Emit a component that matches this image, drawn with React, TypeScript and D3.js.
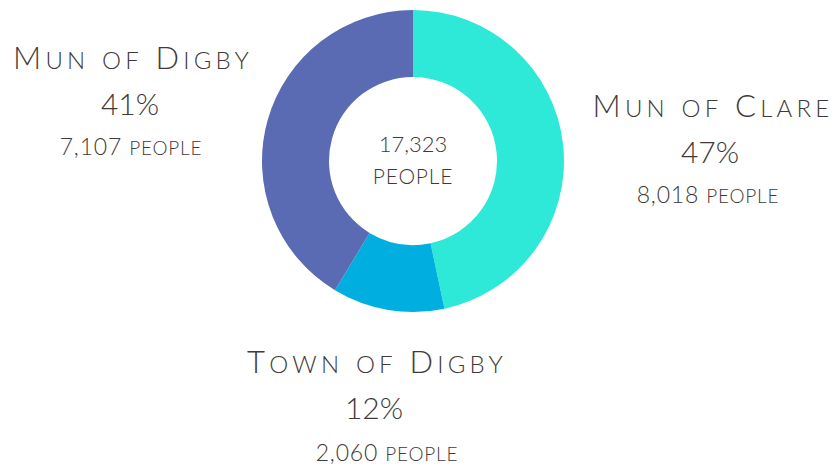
import * as d3 from "d3";

const regions = ["Mun of Clare", "Town of Digby", "Mun of Digby"];
const people = [8018, 2060, 7107];
const percents = ["47%", "12%", "41%"];
const colors = ["#2ee8d8", "#00aedf", "#5a6bb3"];
const totalLabel = "17,323";

const width = 835;
const height = 468;
const cx = 413;
const cy = 161;
const outerR = 151;
const innerR = 84;

// label block anchors (centre x, title baseline y) and x nudge of the people line
const labelPos: [number, number][] = [
  [713, 117],
  [377, 373],
  [133, 69],
];
const peopleShift = [-5, 10, -2];

const font = "Lato, 'Open Sans', sans-serif";
const ink = "#3f3a38";

// fake small caps: lower-case runs drawn as capitals at a smaller size
function smallCaps(s: string, big: number, small: number) {
  const runs = s.match(/[a-z]+|[^a-z]+/g) ?? [];
  return runs.map((r, i) =>
    /[a-z]/.test(r[0]) ? (
      <tspan key={i} fontSize={small}>
        {r.toUpperCase()}
      </tspan>
    ) : (
      <tspan key={i} fontSize={big}>
        {r}
      </tspan>
    )
  );
}

export default function App() {
  const pie = d3
    .pie<number>()
    .value((d) => d)
    .sort(null);
  const arcs = pie(people);
  const arc = d3.arc<d3.PieArcDatum<number>>().innerRadius(innerR).outerRadius(outerR);
  const fmt = d3.format(",");

  return (
    <svg
      width={width}
      height={height}
      style={{ position: "absolute", left: 0, top: 0, background: "#fff" }}
    >
      <g transform={`translate(${cx},${cy})`}>
        {arcs.map((a, i) => (
          <path key={i} d={arc(a) ?? ""} fill={colors[i]} />
        ))}
        <text
          textAnchor="middle"
          y={-9}
          fontFamily={font}
          fontWeight={300}
          fontSize={22}
          fill={ink}
        >
          {totalLabel}
        </text>
        <text
          textAnchor="middle"
          y={23}
          fontFamily={font}
          fontWeight={300}
          fontSize={21}
          fill={ink}
          letterSpacing={0.8}
        >
          PEOPLE
        </text>
      </g>
      {regions.map((r, i) => {
        const [x, y] = labelPos[i];
        return (
          <g key={r} fontFamily={font} fontWeight={300} fill={ink} textAnchor="middle">
            <text x={x} y={y} letterSpacing={4.2}>
              {smallCaps(r, 31, 24)}
            </text>
            <text x={x - 3} y={y + 46} fontSize={30}>
              {percents[i]}
            </text>
            <text x={x + peopleShift[i]} y={y + (i === 1 ? 88 : 86)} letterSpacing={0.8}>
              {smallCaps(`${fmt(people[i])} people`, 23, 19)}
            </text>
          </g>
        );
      })}
    </svg>
  );
}
